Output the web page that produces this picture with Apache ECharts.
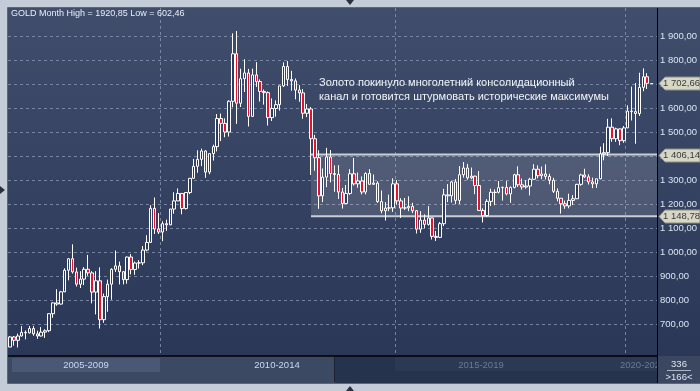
<!DOCTYPE html>
<html><head><meta charset="utf-8">
<script src="https://cdn.jsdelivr.net/npm/echarts@6/dist/echarts.min.js"></script>
<style>html,body{margin:0;padding:0;background:#c4ccd8;}#c{width:700px;height:391px;}</style>
</head><body><div id="c"></div>
<script>
// ---- data: monthly GOLD candles [open, close, low, high] ----
const startYear = 2006, startMonth = 11;
const y2006 = [[604,646,605,650],[646,632,610,650]];
const y2007 = [[632,650,602.46,660],[650,665,648,691],[665,663,636,673],[663,681,661,692],[681,659,651,692],[659,650,638,672],[650,666,648,687],[666,672,642,678],[672,743,666,744],[743,788,726,790],[788,783,776,845],[783,834,781,838]];
const y2008 = [[834,924,833,932],[924,972,882,975],[972,917,910,1032],[917,866,856,935],[866,887,850,920],[887,928,862,937],[928,913,901,988],[913,833,786,920],[833,880,740,920],[880,718,681,936],[718,814,705,827],[814,866,751,885]];
const y2009 = [[866,928,801,932],[928,942,917,1006],[942,918,865,960],[918,885,865,920],[885,979,868,981],[979,927,907,991],[927,954,905,960],[954,955,931,966],[955,1008,945,1025],[1008,1040,1003,1070],[1040,1182,1038,1195],[1182,1096,1075,1227]];
const y2010 = [[1096,1083,1075,1162],[1083,1118,1045,1128],[1118,1113,1088,1135],[1113,1179,1112,1180],[1179,1213,1160,1249],[1213,1244,1212,1265],[1244,1181,1157,1244],[1181,1248,1177,1248],[1248,1307,1241,1308],[1307,1357,1306,1388],[1357,1386,1330,1424],[1386,1421,1358,1431]];
const y2011 = [[1421,1333,1309,1424],[1333,1410,1324,1411],[1410,1439,1381,1447],[1439,1556,1419,1575],[1556,1536,1462,1577],[1536,1500,1478,1557],[1500,1628,1481,1632],[1628,1826,1603,1911],[1826,1620,1534,1920.85],[1620,1722,1604,1764],[1722,1746,1667,1803],[1746,1565,1523,1763]];
const y2012 = [[1565,1738,1563,1764],[1738,1710,1688,1791],[1710,1669,1627,1719],[1669,1664,1614,1677],[1664,1560,1527,1669],[1560,1598,1546,1640],[1598,1614,1564,1632],[1614,1692,1589,1692],[1692,1773,1688,1790],[1773,1719,1692,1796],[1719,1713,1672,1755],[1713,1675,1636,1723]];
const y2013 = [[1675,1663,1626,1695],[1663,1578,1555,1679],[1578,1596,1562,1617],[1596,1472,1321,1604],[1472,1393,1338,1488],[1393,1234,1180,1424],[1234,1312,1208,1348],[1312,1396,1270,1434],[1396,1327,1290,1425],[1327,1323,1251,1361],[1323,1250,1221,1362],[1250,1202,1181,1267]];
const y2014 = [[1202,1244,1202,1279],[1244,1326,1238,1345],[1326,1284,1277,1392],[1284,1296,1268,1331],[1296,1250,1240,1315],[1250,1327,1240,1332],[1327,1282,1281,1345],[1282,1287,1280,1323],[1287,1210,1205,1295],[1210,1172,1161,1256],[1172,1183,1131,1208],[1183,1184,1170,1239]];
const y2015 = [[1184,1284,1167,1307],[1284,1213,1197,1300],[1213,1183,1142,1224],[1183,1184,1175,1225],[1184,1190,1170,1232],[1190,1172,1162,1205],[1172,1095,1077,1175],[1095,1133,1080,1170],[1133,1115,1099,1157],[1115,1142,1110,1191],[1142,1065,1052,1143],[1065,1061,1046,1088]];
const y2016 = [[1061,1118,1058,1125],[1118,1238,1108,1263],[1238,1234,1208,1283],[1234,1292,1206,1297],[1292,1215,1199,1304],[1215,1322,1200,1358],[1322,1350,1310,1375],[1350,1309,1301,1367],[1309,1316,1303,1352],[1316,1277,1241,1318],[1277,1173,1171,1337],[1173,1152,1123,1182]];
const y2017 = [[1152,1211,1146,1220],[1211,1249,1192,1264],[1248,1249,1195,1261],[1249,1268,1244,1296],[1268,1269,1214,1273],[1269,1242,1236,1296],[1242,1269,1205,1273],[1269,1322,1265,1326],[1322,1280,1271,1357],[1280,1271,1260,1306],[1271,1275,1264,1299],[1275,1303,1236,1309]];
const y2018 = [[1303,1345,1302,1366],[1345,1318,1307,1361],[1318,1325,1303,1356],[1325,1315,1302,1365],[1315,1299,1282,1326],[1299,1253,1246,1309],[1253,1224,1211,1265],[1224,1201,1160,1224],[1201,1192,1180,1214],[1192,1215,1182,1243],[1215,1222,1196,1237],[1222,1282,1221,1284]];
const y2019 = [[1282,1321,1276,1326],[1321,1313,1309,1347],[1313,1292,1281,1324],[1292,1284,1266,1310],[1284,1305,1267,1306],[1305,1409,1303,1439],[1409,1414,1382,1453],[1414,1520,1400,1555],[1520,1472,1459,1557],[1472,1513,1459,1518],[1513,1464,1445,1515],[1464,1517,1455,1525]];
const y2020 = [[1517,1587,1517,1611],[1587,1585,1548,1689],[1585,1577,1451,1704],[1577,1686,1567,1747],[1686,1730,1670,1765],[1730,1702.66,1679,1745]];

const yTicks = [700,800,900,1000,1100,1200,1300,1400,1500,1600,1700,1800,1900];
const channelStart = '2013-04';
const channelHigh = 1406.14, channelLow = 1148.78;
const yearDividers = ['2010-02','2015-02','2020-01'];
const periodLabels = ['2005-2009','2010-2014','2015-2019','2020-2024'];
const titleText = 'GOLD Month';
const noteLines = ['Золото покинуло многолетний консолидационный','канал и готовится штурмовать исторические максимумы'];
const totalBars = '336', visibleBars = '>166<';

// ---- build ----
const ohlc = [].concat(y2006,y2007,y2008,y2009,y2010,y2011,y2012,y2013,y2014,y2015,y2016,y2017,y2018,y2019,y2020);
const emptySlots = 2;
const categories = [];
for (let i = 0; i < ohlc.length + emptySlots; i++) {
  const m = startMonth - 1 + i;
  categories.push((startYear + Math.floor(m / 12)) + '-' + String(m % 12 + 1).padStart(2, '0'));
}
const dividerIdx = yearDividers.map(c => categories.indexOf(c));
function fmt(v) {
  const s = Number(v).toFixed(2).split('.');
  return s[0].replace(/\B(?=(\d{3})+(?!\d))/g, ' ') + ',' + s[1];
}
const hi = Math.max(...ohlc.map(d => d[3])), lo = Math.min(...ohlc.map(d => d[2]));
const lastPrice = ohlc[ohlc.length - 1][1];
const FONT = 'Liberation Sans';

const chart = echarts.init(document.getElementById('c'), null, {renderer: 'canvas', width: 700, height: 391});
const lineHalf = 4.2;
chart.setOption({
  backgroundColor: '#c4ccd8',
  animation: false,
  grid: {left: 8, right: 43, top: 8, bottom: 35},
  xAxis: {
    type: 'category', data: categories, boundaryGap: true,
    axisLine: {show: true, onZero: false, lineStyle: {color: '#000', width: 1.5}},
    axisTick: {show: false}, axisLabel: {show: false},
    splitLine: {show: true, interval: (i) => dividerIdx.includes(i), lineStyle: {color: 'rgba(140,155,185,0.75)', type: [3, 3], width: 1}}
  },
  yAxis: {
    type: 'value', position: 'right', min: 566.67, max: 2016.67, scale: true,
    axisLine: {show: true, lineStyle: {color: '#000', width: 1}},
    axisTick: {show: false, customValues: yTicks},
    axisLabel: {customValues: yTicks, formatter: fmt, color: '#dbe4f3', fontSize: 9.5, fontFamily: FONT, margin: 3},
    splitLine: {show: true, lineStyle: {color: 'rgba(140,155,185,0.75)', type: [3, 3], width: 1}}
  },
  series: [{
    type: 'candlestick', data: ohlc, barWidth: 3,
    itemStyle: {color: '#2f3b5a', color0: '#e8112d', borderColor: '#ffffff', borderColor0: '#ffffff', borderWidth: 1},
    markArea: {
      silent: true,
      data: [
        [{xAxis: channelStart, yAxis: channelLow, itemStyle: {color: 'rgba(255,255,255,0.13)'}}, {yAxis: channelHigh}],
        [{xAxis: channelStart, yAxis: channelHigh - lineHalf, itemStyle: {color: '#c9cdd4'}}, {yAxis: channelHigh + lineHalf}],
        [{xAxis: channelStart, yAxis: channelLow - lineHalf, itemStyle: {color: '#c9cdd4'}}, {yAxis: channelLow + lineHalf}]
      ]
    }
  }]
});

// ---- decorations & tags via library coordinates ----
const g = [];
g.push({type: 'rect', z: -10, shape: {x: 8, y: 8, width: 692, height: 348},
  style: {fill: new echarts.graphic.LinearGradient(0, 0, 0, 1, [{offset: 0, color: '#404d6b'}, {offset: 1, color: '#2b3757'}])}});
g.push({type: 'rect', z: -10, shape: {x: 8, y: 356, width: 327, height: 27}, style: {fill: '#3c4963'}});
g.push({type: 'rect', z: -9, shape: {x: 12, y: 358, width: 148, height: 14}, style: {fill: '#4a5775'}});
g.push({type: 'rect', z: -10, shape: {x: 335, y: 356, width: 322, height: 27}, style: {fill: '#26334c'}});
g.push({type: 'rect', z: -9, shape: {x: 395, y: 357, width: 262, height: 14}, style: {fill: '#2c3953'}});
g.push({type: 'line', z: 5, shape: {x1: 334.5, y1: 357, x2: 334.5, y2: 382}, style: {stroke: '#1c2335', lineWidth: 1}});
g.push({type: 'line', z: 5, shape: {x1: 8, y1: 383.5, x2: 700, y2: 383.5}, style: {stroke: '#8f99ab', lineWidth: 1}});
g.push({type: 'rect', z: 5, shape: {x: 7.5, y: 7.5, width: 700, height: 376}, style: {fill: null, stroke: '#5d677c', lineWidth: 1}});
const labX = [86, 277, 481];
periodLabels.forEach((t, i) => {
  if (i < 3) g.push({type: 'text', z: 6, x: labX[i], y: 365, style: {text: t, fill: i < 2 ? '#cbd8ef' : '#6d7a93', font: '9.5px ' + FONT, textAlign: 'center', textVerticalAlign: 'middle'}});
  else g.push({type: 'text', z: 6, x: 620, y: 365, style: {text: t, fill: '#6d7a93', font: '9.5px ' + FONT, textAlign: 'left', textVerticalAlign: 'middle'}});
});
g.push({type: 'rect', z: 7, shape: {x: 658, y: 356, width: 42, height: 27}, style: {fill: '#3b4761'}});
g.push({type: 'line', z: 8, shape: {x1: 657.5, y1: 356, x2: 657.5, y2: 383}, style: {stroke: '#000', lineWidth: 1}});
g.push({type: 'text', z: 8, x: 679, y: 364, style: {text: totalBars, fill: '#dbe4f3', font: '9.5px ' + FONT, textAlign: 'center', textVerticalAlign: 'middle'}});
g.push({type: 'line', z: 8, shape: {x1: 667, y1: 370.5, x2: 691, y2: 370.5}, style: {stroke: '#aab4c6', lineWidth: 1}});
g.push({type: 'text', z: 8, x: 679, y: 377, style: {text: visibleBars, fill: '#dbe4f3', font: '9.5px ' + FONT, textAlign: 'center', textVerticalAlign: 'middle'}});
// triangles on frame
g.push({type: 'polygon', z: 8, shape: {points: [[346, 0], [354, 0], [350, 5]]}, style: {fill: '#2a3042'}});
g.push({type: 'polygon', z: 8, shape: {points: [[346, 391], [354, 391], [350, 386]]}, style: {fill: '#2a3042'}});
g.push({type: 'polygon', z: 8, shape: {points: [[0, 186], [0, 194], [5, 190]]}, style: {fill: '#2a3042'}});
// title & note
g.push({type: 'text', z: 20, x: 11, y: 14, style: {text: titleText + ' High = ' + fmt(hi).replace(' ', '') + ' Low = ' + fmt(lo), fill: '#e8eef8', font: '9px ' + FONT, textVerticalAlign: 'middle'}});
noteLines.forEach((t, i) => g.push({type: 'text', z: 20, x: 319, y: 83 + i * 14, style: {text: t, fill: '#f2f5fa', font: '11px ' + FONT, textVerticalAlign: 'middle'}}));
// price tags
function tag(v) {
  const y = Math.round(chart.convertToPixel({yAxisIndex: 0}, v)) + 0.5;
  g.push({type: 'polygon', z: 30, shape: {points: [[659, y], [665, y - 6.5], [700, y - 6.5], [700, y + 6.5], [665, y + 6.5]]}, style: {fill: '#d7d7c7', stroke: '#8f8f80', lineWidth: 1}});
  g.push({type: 'text', z: 31, x: 663, y: y, style: {text: fmt(v), fill: '#3a3a3a', font: '9.5px ' + FONT, textVerticalAlign: 'middle'}});
}
[lastPrice, channelHigh, channelLow].forEach(tag);
const lp = chart.convertToPixel({xAxisIndex: 0, yAxisIndex: 0}, [categories[ohlc.length - 1], lastPrice]);
g.push({type: 'line', z: 30, shape: {x1: lp[0] + 3, y1: Math.round(lp[1]) + 0.5, x2: lp[0] + 6, y2: Math.round(lp[1]) + 0.5}, style: {stroke: '#e8eef8', lineWidth: 1}});
chart.setOption({graphic: g});
</script></body></html>
